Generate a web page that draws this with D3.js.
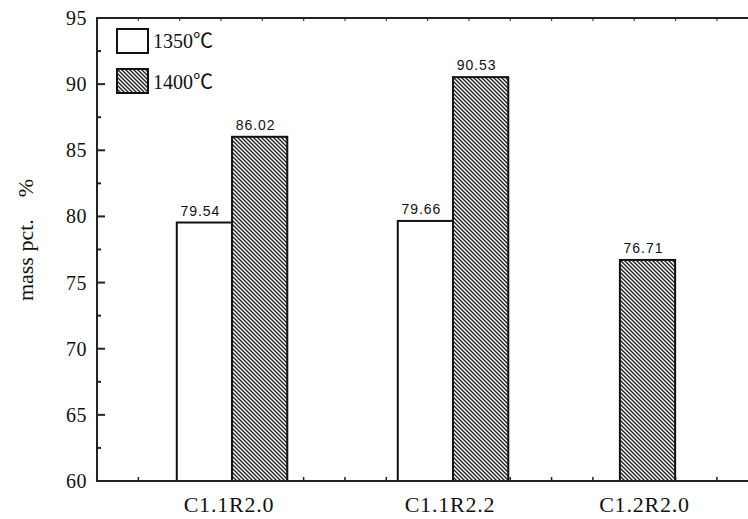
<!DOCTYPE html>
<html>
<head>
<meta charset="utf-8">
<script src="https://cdn.jsdelivr.net/npm/d3@7"></script>
<style>
  html, body { margin: 0; padding: 0; background: #fff; }
  svg { display: block; }
  text { fill: #111; }
</style>
</head>
<body>
<script>
// ---- data ----
const categories = ["C1.1R2.0", "C1.1R2.2", "C1.2R2.0"];
const catPos = [1, 2, 2.88];
const seriesNames = ["1350℃", "1400℃"];
const values1350 = [79.54, 79.66, null];
const values1400 = [86.02, 90.53, 76.71];
const yTickValues = [60, 65, 70, 75, 80, 85, 90, 95];
const yMinorValues = [62.5, 67.5, 72.5, 77.5, 82.5, 87.5, 92.5];

// ---- layout ----
const W = 748, H = 519;
const mLeft = 97, mTop = 18, mBottom = 481;
const xMin = 0.389, xMax = 3.5, unitPx = 221;
const barW = 0.25;

const svg = d3.select("body").append("svg").attr("width", W).attr("height", H);
svg.append("rect").attr("width", W).attr("height", H).attr("fill", "#fff");

const defs = svg.append("defs");
const pat = defs.append("pattern").attr("id", "hatch")
  .attr("patternUnits", "userSpaceOnUse").attr("width", 4).attr("height", 4);
pat.append("rect").attr("width", 4).attr("height", 4).attr("fill", "#fff");
pat.append("path").attr("d", "M-1,-1 L5,5 M3,-1 L5,1 M-1,3 L1,5")
  .attr("stroke", "#222").attr("stroke-width", 1.4);

const x = d3.scaleLinear().domain([xMin, xMax]).range([mLeft, mLeft + (xMax - xMin) * unitPx]);
const y = d3.scaleLinear().domain([60, 95]).range([mBottom, mTop]);

// ---- bars ----
const bars = [];
categories.forEach((c, i) => {
  const a = values1350[i], b = values1400[i];
  const cx = catPos[i];
  if (a != null && b != null) {
    bars.push({ s: 0, v: a, x0: cx - barW, x1: cx });
    bars.push({ s: 1, v: b, x0: cx, x1: cx + barW });
  } else if (a != null) {
    bars.push({ s: 0, v: a, x0: cx - barW / 2, x1: cx + barW / 2 });
  } else if (b != null) {
    bars.push({ s: 1, v: b, x0: cx - barW / 2, x1: cx + barW / 2 });
  }
});

// minor x ticks (drawn before bars so bars cover them)
const xMinor = d3.range(xMin + 0.187, xMax, 0.187);
const axisG = svg.append("g");
axisG.selectAll(".xtb").data(xMinor).join("line")
  .attr("x1", d => x(d)).attr("x2", d => x(d))
  .attr("y1", mBottom).attr("y2", mBottom - 4)
  .attr("stroke", "#222").attr("stroke-width", 1.5);
axisG.selectAll(".xtt").data(xMinor).join("line")
  .attr("x1", d => x(d)).attr("x2", d => x(d))
  .attr("y1", mTop).attr("y2", mTop + 3)
  .attr("stroke", "#444").attr("stroke-width", 1.2);

svg.append("g").selectAll("rect").data(bars).join("rect")
  .attr("x", d => x(d.x0)).attr("width", d => x(d.x1) - x(d.x0))
  .attr("y", d => y(d.v)).attr("height", d => y(60) - y(d.v))
  .attr("fill", d => d.s === 0 ? "#fff" : "url(#hatch)")
  .attr("stroke", "#111").attr("stroke-width", 2);

// value labels
svg.append("g").selectAll("text").data(bars).join("text")
  .attr("x", d => (x(d.x0) + x(d.x1)) / 2 - 4)
  .attr("y", d => y(d.v) - 7)
  .attr("text-anchor", "middle")
  .style("font-family", "'Liberation Sans', Arial, sans-serif")
  .style("font-size", "14px")
  .style("letter-spacing", "1px")
  .text(d => d.v.toFixed(2));

// ---- frame ----
svg.append("line").attr("x1", mLeft).attr("x2", W + 10).attr("y1", mTop).attr("y2", mTop)
  .attr("stroke", "#222").attr("stroke-width", 2);
svg.append("line").attr("x1", mLeft).attr("x2", W + 10).attr("y1", mBottom).attr("y2", mBottom)
  .attr("stroke", "#222").attr("stroke-width", 2);
svg.append("line").attr("x1", mLeft).attr("x2", mLeft).attr("y1", mTop - 1).attr("y2", mBottom + 1)
  .attr("stroke", "#222").attr("stroke-width", 2);

// y ticks
svg.append("g").selectAll("line").data(yTickValues).join("line")
  .attr("x1", mLeft).attr("x2", mLeft + 8).attr("y1", d => y(d)).attr("y2", d => y(d))
  .attr("stroke", "#222").attr("stroke-width", 2);
svg.append("g").selectAll("line").data(yMinorValues).join("line")
  .attr("x1", mLeft).attr("x2", mLeft + 4).attr("y1", d => y(d)).attr("y2", d => y(d))
  .attr("stroke", "#222").attr("stroke-width", 2);
svg.append("g").selectAll("text").data(yTickValues).join("text")
  .attr("x", mLeft - 10).attr("y", d => y(d)).attr("dy", "0.35em")
  .attr("text-anchor", "end")
  .style("font-family", "'Liberation Serif', 'Times New Roman', serif")
  .style("font-size", "20px")
  .style("letter-spacing", "0.5px")
  .text(d => d);

// x labels
svg.append("g").selectAll("text").data(categories).join("text")
  .attr("x", (d, i) => x(catPos[i]) - 3).attr("y", 512)
  .attr("text-anchor", "middle")
  .style("font-family", "'Liberation Serif', 'Times New Roman', serif")
  .style("font-size", "22px")
  .style("letter-spacing", "0.8px")
  .text(d => d);

// axis title
svg.append("text")
  .attr("transform", "translate(33,240) rotate(-90)")
  .attr("text-anchor", "middle")
  .style("font-family", "'Liberation Serif', 'Times New Roman', serif")
  .style("font-size", "22px")
  .style("white-space", "pre")
  .text("mass pct.    %");

// ---- legend ----
const lg = svg.append("g");
seriesNames.forEach((s, i) => {
  lg.append("rect").attr("x", 117).attr("y", 29 + i * 40).attr("width", 31).attr("height", 24)
    .attr("fill", i === 0 ? "#fff" : "url(#hatch)")
    .attr("stroke", "#111").attr("stroke-width", 2);
  lg.append("text").attr("x", 153).attr("y", 48 + i * 41)
    .style("font-family", "'Liberation Serif', 'Times New Roman', 'Noto Sans CJK SC', serif")
    .style("font-size", "20px")
    .text(s);
});
</script>
</body>
</html>
